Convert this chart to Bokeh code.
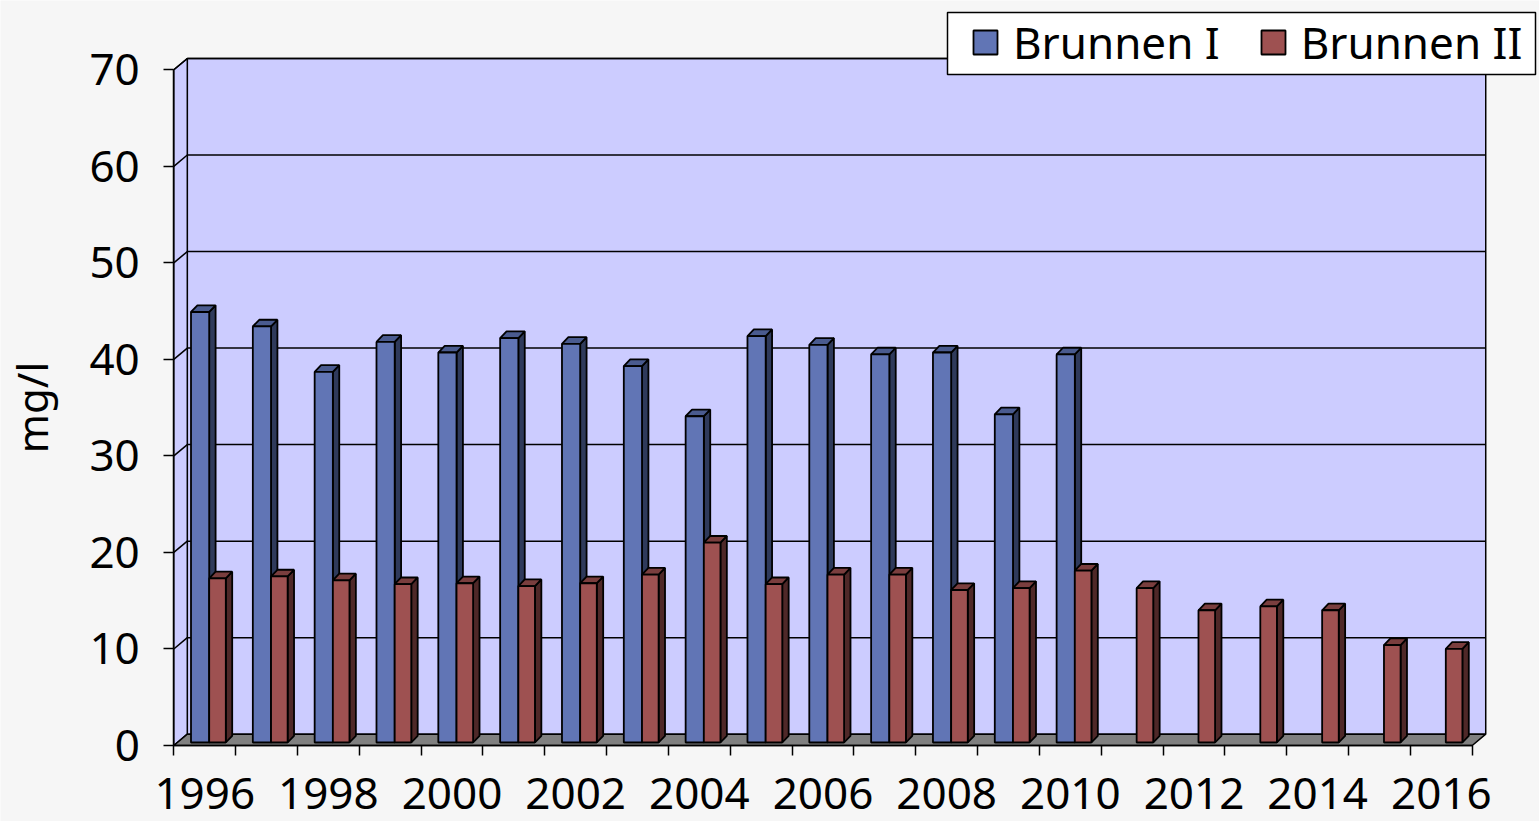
from bokeh.plotting import figure
from bokeh.models import (LinearAxis, FixedTicker, Legend, LegendItem, Range1d, ColumnDataSource)
from bokeh.embed import file_html
from bokeh.resources import INLINE

# ---------------- data ----------------
years = list(range(1996, 2017))
brunnen1 = [44.6, 43.1, 38.4, 41.5, 40.4, 41.9, 41.3, 39.0, 33.8, 42.1, 41.2, 40.2, 40.4, 34.0, 40.2,
            None, None, None, None, None, None]
brunnen2 = [17.0, 17.2, 16.8, 16.4, 16.5, 16.2, 16.5, 17.4, 20.7, 16.4, 17.4, 17.4, 15.8, 16.0, 17.8,
            16.0, 13.7, 14.1, 13.7, 10.1, 9.7]
y_ticks = [0, 10, 20, 30, 40, 50, 60, 70]
year_labels = years[::2]
y_label = "mg/l"
series_names = ["Brunnen I", "Brunnen II"]

# ---------------- style / geometry constants ----------------
FONT = "Noto Sans"
W, H = 1539, 821
PX_X = 61.83   # px per category
PX_Y = 9.653   # px per unit
X0 = years[0] - 0.5
X1 = years[-1] + 0.5
AX_PX, AY_PX = 173.3, 745.0   # screen position of the front-left-bottom corner
DX = 13.5 / PX_X      # wall depth offset
DY = 11.3 / PX_Y
B0 = 3.0 / PX_Y       # bar base lift
BDX = 6.4 / PX_X      # bar depth
BDY = 6.7 / PX_Y
OFF = {"b1": (17.2 / PX_X, 35.4 / PX_X), "b2": (35.4 / PX_X, 52.0 / PX_X)}

BG = "#f6f6f6"
WALL = "#CCCCFF"
FLOOR = "#808080"
COL = {
    "b1": ("#6175B5", "#2F3A5B", "#4A5B8F"),
    "b2": ("#9E5151", "#4F2828", "#7A3E3E"),
}
BAR_LW = 1.8


def px2x(px):
    return X0 + (px - AX_PX) / PX_X


def px2y(py):
    return (AY_PX - py) / PX_Y


p = figure(width=W, height=H, output_backend="svg", toolbar_location=None,
           x_axis_location=None, y_axis_location=None, title=None,
           x_range=Range1d(px2x(0), px2x(W)), y_range=Range1d(px2y(H), px2y(0)),
           min_border=0)
p.outline_line_color = None
p.grid.visible = False
p.background_fill_color = BG
p.border_fill_color = BG

# ---------------- walls & floor ----------------
ymax = y_ticks[-1]
p.quad(left=[X0 + DX], right=[X1 + DX], bottom=[DY], top=[ymax + DY],
       fill_color=WALL, line_color="black", line_width=1.5)
p.patch([X0, X0 + DX, X0 + DX, X0], [0, DY, ymax + DY, ymax],
        fill_color=WALL, line_color="black", line_width=1.5)
gl = [t for t in y_ticks if t > 0]
p.segment(x0=[X0 + DX] * len(gl), y0=[t + DY for t in gl], x1=[X1 + DX] * len(gl),
          y1=[t + DY for t in gl], line_color="black", line_width=1.5)
p.segment(x0=[X0] * len(gl), y0=gl, x1=[X0 + DX] * len(gl), y1=[t + DY for t in gl],
          line_color="black", line_width=1.5)
p.patch([X0, X1, X1 + DX, X0 + DX], [0, 0, DY, DY],
        fill_color=FLOOR, line_color="black", line_width=1.5)


# ---------------- 3D bars ----------------
def bars(key, vals):
    xs_l, xs_r, tops = [], [], []
    for yr, v in zip(years, vals):
        if v is None:
            continue
        xs_l.append(yr - 0.5 + OFF[key][0])
        xs_r.append(yr - 0.5 + OFF[key][1])
        tops.append(B0 + v)
    front_c, side_c, top_c = COL[key]
    side_xs = [[r, r, r + BDX, r + BDX] for r in xs_r]
    side_ys = [[B0, t, t + BDY, B0 + BDY] for t in tops]
    top_xs = [[l, r, r + BDX, l + BDX] for l, r in zip(xs_l, xs_r)]
    top_ys = [[t, t, t + BDY, t + BDY] for t in tops]
    p.patches(side_xs, side_ys, fill_color=side_c, line_color="black", line_width=BAR_LW)
    p.patches(top_xs, top_ys, fill_color=top_c, line_color="black", line_width=BAR_LW)
    src = ColumnDataSource(dict(left=xs_l, right=xs_r, bottom=[B0] * len(tops), top=tops))
    return p.quad(left="left", right="right", bottom="bottom", top="top", source=src,
                  fill_color=front_c, line_color="black", line_width=BAR_LW)


r1 = bars("b1", brunnen1)
r2 = bars("b2", brunnen2)

# ---------------- axes ----------------
yax = LinearAxis(fixed_location=X0, bounds=(0, ymax),
                 ticker=FixedTicker(ticks=y_ticks, minor_ticks=[]))
yax.axis_line_color = "black"
yax.axis_line_width = 1.5
yax.major_tick_line_width = 1.5
yax.major_tick_out = 10
yax.major_tick_in = 0
yax.minor_tick_out = 0
yax.major_label_text_font = FONT
yax.major_label_text_font_size = "44px"
yax.major_label_text_color = "black"
yax.major_label_standoff = 24
yax.axis_label = y_label
yax.axis_label_text_font = FONT
yax.axis_label_text_font_size = "42px"
yax.axis_label_text_font_style = "normal"
yax.axis_label_text_color = "black"
yax.axis_label_standoff = 26
p.add_layout(yax, "left")

boundaries = [y - 0.5 for y in years] + [years[-1] + 0.5]
xax = LinearAxis(fixed_location=0, bounds=(X0, X1),
                 ticker=FixedTicker(ticks=year_labels, minor_ticks=boundaries))
xax.major_label_overrides = {y: str(y) for y in year_labels}
xax.axis_line_color = "black"
xax.axis_line_width = 1.5
xax.major_tick_out = 0
xax.major_tick_in = 0
xax.minor_tick_out = 10
xax.minor_tick_in = 0
xax.minor_tick_line_color = "black"
xax.minor_tick_line_width = 1.5
xax.major_label_text_font = FONT
xax.major_label_text_font_size = "44px"
xax.major_label_text_color = "black"
xax.major_label_standoff = 22
p.add_layout(xax, "below")

# ---------------- legend ----------------
# white legend frame
p.quad(left=[px2x(947)], right=[px2x(1535)], top=[px2y(12)], bottom=[px2y(74)],
       fill_color="white", line_color="black", line_width=1.5)
legend = Legend(items=[LegendItem(label=series_names[0], renderers=[r1]),
                       LegendItem(label=series_names[1], renderers=[r2])],
                orientation="horizontal", location=(970, H - 45 - 27), margin=0, padding=0,
                glyph_width=30, glyph_height=30, label_standoff=13, spacing=38,
                label_text_font=FONT, label_text_font_size="44px", label_text_color="black",
                border_line_alpha=0, background_fill_alpha=0)
p.add_layout(legend)

open("out.html", "w").write(file_html(p, INLINE))
